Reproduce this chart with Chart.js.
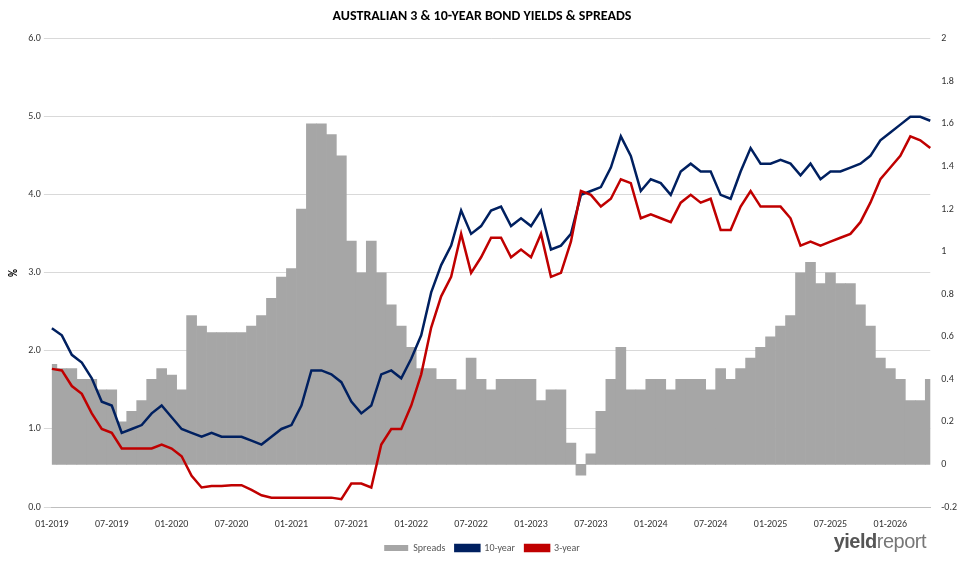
<!DOCTYPE html>
<html>
<head>
<meta charset="utf-8">
<script src="https://cdn.jsdelivr.net/npm/chart.js@4"></script>
<style>
  body { margin: 0; background: #fff; font-family: Calibri, "Liberation Sans", Arial, sans-serif; }
  .wrap { position: relative; width: 966px; height: 567px; }
  .logo { position: absolute; right: 40px; bottom: 14px; font: bold 20px "Liberation Sans", Arial, sans-serif; color: #555; letter-spacing: -0.5px; }
  .logo span { color: #777; font-weight: normal; }
</style>
</head>
<body>
<div class="wrap">
  <canvas id="bondChart" width="966" height="567"></canvas>
  <div class="logo">yield<span>report</span></div>
</div>
<script>
// monthly, 01-2019 .. 05-2026
let months = [];
for (let y = 2019; y <= 2026; y++) {
    for (let m = 1; m <= 12; m++) {
        if (y === 2026 && m > 5) break;
        months.push((m < 10 ? '0' + m : m) + '-' + y);
    }
}

let tenYear = [
    2.29, 2.2, 1.95, 1.85, 1.65, 1.35, 1.3, 0.95, 1.0, 1.05, 1.2, 1.3,
    1.15, 1.0, 0.95, 0.9, 0.95, 0.9, 0.9, 0.9, 0.85, 0.8, 0.9, 1.0,
    1.05, 1.3, 1.75, 1.75, 1.7, 1.6, 1.35, 1.2, 1.3, 1.7, 1.75, 1.65,
    1.9, 2.2, 2.75, 3.1, 3.35, 3.8, 3.5, 3.6, 3.8, 3.85, 3.6, 3.7,
    3.6, 3.8, 3.3, 3.35, 3.5, 4.0, 4.05, 4.1, 4.35, 4.75, 4.5, 4.05,
    4.2, 4.15, 4.0, 4.3, 4.4, 4.3, 4.3, 4.0, 3.95, 4.3, 4.6, 4.4,
    4.4, 4.45, 4.4, 4.25, 4.4, 4.2, 4.3, 4.3, 4.35, 4.4, 4.5, 4.7,
    4.8, 4.9, 5.0, 5.0, 4.95
];

let threeYear = [
    1.77, 1.75, 1.55, 1.45, 1.2, 1.0, 0.95, 0.75, 0.75, 0.75, 0.75, 0.8,
    0.75, 0.65, 0.4, 0.25, 0.27, 0.27, 0.28, 0.28, 0.22, 0.15, 0.12, 0.12,
    0.12, 0.12, 0.12, 0.12, 0.12, 0.1, 0.3, 0.3, 0.25, 0.8, 1.0, 1.0,
    1.3, 1.7, 2.3, 2.7, 2.95, 3.5, 3.0, 3.2, 3.45, 3.45, 3.2, 3.3,
    3.2, 3.5, 2.95, 3.0, 3.4, 4.05, 4.0, 3.85, 3.95, 4.2, 4.15, 3.7,
    3.75, 3.7, 3.65, 3.9, 4.0, 3.9, 3.95, 3.55, 3.55, 3.85, 4.05, 3.85,
    3.85, 3.85, 3.7, 3.35, 3.4, 3.35, 3.4, 3.45, 3.5, 3.65, 3.9, 4.2,
    4.35, 4.5, 4.75, 4.7, 4.6
];

let spreads = [
    0.47, 0.45, 0.45, 0.4, 0.4, 0.35, 0.35, 0.2, 0.25, 0.3, 0.4, 0.45,
    0.42, 0.35, 0.7, 0.65, 0.62, 0.62, 0.62, 0.62, 0.65, 0.7, 0.78, 0.88,
    0.92, 1.2, 1.6, 1.6, 1.55, 1.45, 1.05, 0.9, 1.05, 0.9, 0.75, 0.65,
    0.55, 0.45, 0.45, 0.4, 0.4, 0.35, 0.5, 0.4, 0.35, 0.4, 0.4, 0.4,
    0.4, 0.3, 0.35, 0.35, 0.1, -0.05, 0.05, 0.25, 0.4, 0.55, 0.35, 0.35,
    0.4, 0.4, 0.35, 0.4, 0.4, 0.4, 0.35, 0.45, 0.4, 0.45, 0.5, 0.55,
    0.6, 0.65, 0.7, 0.9, 0.95, 0.85, 0.9, 0.85, 0.85, 0.75, 0.65, 0.5,
    0.45, 0.4, 0.3, 0.3, 0.4
];

let legendOrder = ['Spreads', '10-year', '3-year'];

Chart.defaults.font.family = 'Calibri, "Liberation Sans", Arial, sans-serif';
Chart.defaults.font.size = 10;
Chart.defaults.color = '#333';

new Chart(document.getElementById('bondChart'), {
    data: {
        labels: months,
        datasets: [
            {
                type: 'line',
                label: '10-year',
                data: tenYear,
                yAxisID: 'y',
                borderColor: '#002060',
                backgroundColor: '#002060',
                borderWidth: 2.5,
                pointRadius: 0,
                order: 1
            },
            {
                type: 'line',
                label: '3-year',
                data: threeYear,
                yAxisID: 'y',
                borderColor: '#c00000',
                backgroundColor: '#c00000',
                borderWidth: 2.5,
                pointRadius: 0,
                order: 0
            },
            {
                type: 'bar',
                label: 'Spreads',
                data: spreads,
                yAxisID: 'y2',
                backgroundColor: '#a6a6a6',
                barPercentage: 1,
                categoryPercentage: 1,
                order: 2
            }
        ]
    },
    options: {
        responsive: false,
        animation: false,
        layout: { padding: { left: 4, right: 6, bottom: 4 } },
        plugins: {
            title: {
                display: true,
                text: 'AUSTRALIAN 3 & 10-YEAR BOND YIELDS & SPREADS',
                color: '#000',
                font: { size: 14, weight: 'bold' },
                padding: { top: 8, bottom: 14 }
            },
            legend: {
                position: 'bottom',
                labels: {
                    boxWidth: 24,
                    boxHeight: 6,
                    font: { size: 10 },
                    color: '#555',
                    sort: (a, b) => legendOrder.indexOf(a.text) - legendOrder.indexOf(b.text)
                }
            }
        },
        scales: {
            x: {
                offset: false,
                grid: { display: false },
                border: { color: '#bfbfbf' },
                ticks: {
                    autoSkip: false,
                    maxRotation: 0,
                    callback: function(val, i) {
                        let l = months[i];
                        return (l.startsWith('01-') || l.startsWith('07-')) ? l : '';
                    }
                }
            },
            y: {
                position: 'left',
                min: 0,
                max: 6,
                ticks: { stepSize: 1, callback: v => v.toFixed(1) },
                grid: { color: '#d9d9d9' },
                border: { display: false },
                title: { display: true, text: '%', font: { size: 11, weight: 'bold' }, color: '#000' }
            },
            y2: {
                position: 'right',
                min: -0.2,
                max: 2,
                ticks: { stepSize: 0.2, callback: v => Math.round(v * 10) / 10 },
                grid: { display: false },
                border: { display: false }
            }
        }
    }
});
</script>
</body>
</html>
